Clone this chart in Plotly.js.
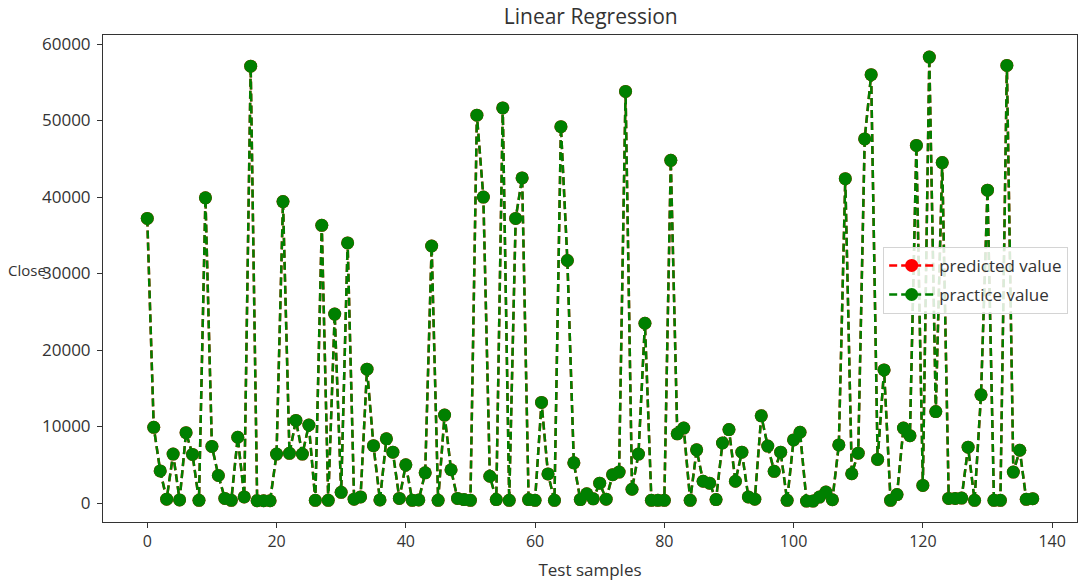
<!DOCTYPE html>
<html>
<head>
<meta charset="utf-8">
<script src="https://cdn.plot.ly/plotly-3.0.1.min.js"></script>
<style>html,body{margin:0;padding:0;background:#fff;}#chart{width:1080px;height:588px;}</style>
</head>
<body>
<div id="chart"></div>
<script>
const practiceValue = [
  37200, 9900, 4200, 500, 6400, 400, 9200, 6350, 350, 39900,
  7400, 3600, 600, 350, 8600, 800, 57100, 300, 300, 300,
  6400, 39400, 6500, 10800, 6400, 10200, 350, 36300, 350, 24700,
  1400, 34000, 500, 800, 17500, 7500, 400, 8400, 6650, 600,
  5000, 350, 400, 3950, 33600, 350, 11500, 4350, 600, 450,
  350, 50700, 40000, 3500, 450, 51650, 350, 37200, 42500, 450,
  350, 13150, 3800, 350, 49200, 31700, 5250, 450, 1200, 550,
  2600, 500, 3700, 4050, 53800, 1800, 6400, 23500, 350, 350,
  350, 44800, 9050, 9800, 350, 6950, 2850, 2600, 450, 7850,
  9600, 2850, 6650, 800, 500, 11400, 7450, 4150, 6650, 350,
  8250, 9250, 260, 260, 780, 1430, 430, 7600, 42400, 3830,
  6520, 47600, 56000, 5700, 17400, 350, 1100, 9800, 8800, 46750,
  2300, 58300, 11950, 44500, 600, 600, 650, 7300, 350, 14150,
  40900, 350, 350, 57200, 4050, 6900, 480, 570
];
// predicted values are drawn underneath and are hidden by the practice values
const predictedValue = practiceValue.slice();
const sampleIndex = practiceValue.map((_, i) => i);
const xTicks = [0, 20, 40, 60, 80, 100, 120, 140];
const yTicks = [0, 10000, 20000, 30000, 40000, 50000, 60000];

const font = "'Open Sans', 'Noto Sans', sans-serif";
const textColor = '#333';

const traces = [
  {
    x: sampleIndex, y: predictedValue, name: 'predicted value', legendgroup: 'pred',
    type: 'scatter', mode: 'lines+markers',
    line: {color: '#ff0000', width: 2.5, dash: '8px,4px'},
    marker: {color: '#ff0000', size: 13}
  },
  {
    x: sampleIndex, y: practiceValue, name: 'practice value', legendgroup: 'prac',
    type: 'scatter', mode: 'lines+markers',
    line: {color: '#008000', width: 2.5, dash: '8px,4px'},
    marker: {color: '#008000', size: 13}
  }
];

const layout = {
  width: 1080, height: 588,
  margin: {l: 103, r: 3, t: 35, b: 66},
  paper_bgcolor: '#fff', plot_bgcolor: '#fff',
  font: {family: font, size: 16, color: textColor},
  title: {text: 'Linear Regression', font: {family: font, size: 21, color: textColor}, x: 0.547, xanchor: 'center', y: 0.971, yanchor: 'middle'},
  showlegend: true,
  legend: {
    x: 0.801, y: 0.565, xanchor: 'left', yanchor: 'top',
    bgcolor: 'rgba(255,255,255,0.85)', bordercolor: '#d4d4d4', borderwidth: 1,
    font: {family: font, size: 17, color: textColor},
    itemwidth: 45, tracegroupgap: 4
  },
  xaxis: {
    range: [-6.85, 143.85], tickvals: xTicks, ticktext: xTicks.map(String),
    showgrid: false, zeroline: false,
    showline: true, linecolor: '#333', linewidth: 1, mirror: true,
    ticks: 'outside', ticklen: 5, tickcolor: '#333',
    tickfont: {family: font, size: 16, color: textColor},
    title: {text: 'Test samples', font: {family: font, size: 17, color: textColor}, standoff: 12}
  },
  yaxis: {
    range: [-2480, 61180], tickvals: yTicks, ticktext: yTicks.map(String),
    showgrid: false, zeroline: false,
    showline: true, linecolor: '#333', linewidth: 1, mirror: true,
    ticks: 'outside', ticklen: 5, tickcolor: '#333', ticklabelstandoff: 3,
    tickfont: {family: font, size: 17, color: textColor}
  },
  annotations: [{
    text: 'Close', xref: 'paper', yref: 'paper', x: -0.1, y: 0.517,
    xanchor: 'left', yanchor: 'middle', showarrow: false,
    font: {family: font, size: 15, color: textColor}
  }]
};

Plotly.newPlot('chart', traces, layout, {displayModeBar: false, staticPlot: true});
</script>
</body>
</html>
